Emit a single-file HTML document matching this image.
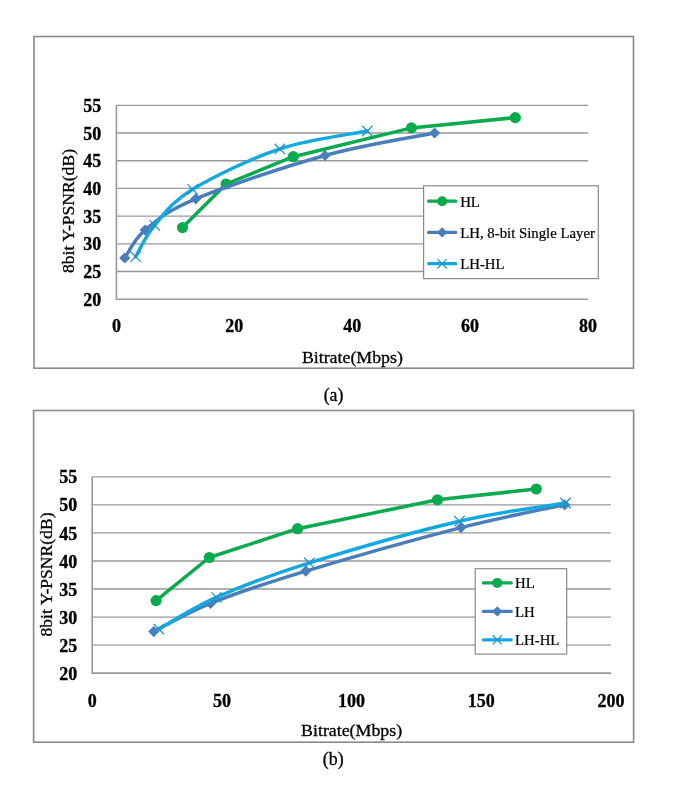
<!DOCTYPE html>
<html><head><meta charset="utf-8"><style>
html,body{margin:0;padding:0;background:#fff;}
svg{display:block;will-change:transform;}
text{font-family:"Liberation Serif", serif;fill:#000;stroke:#000;stroke-width:0.3px;}
</style></head><body>
<svg width="685" height="798" viewBox="0 0 685 798">
<rect width="685" height="798" fill="#fff"/>
<rect x="34.00" y="36.50" width="599.50" height="331.70" fill="#fff" stroke="#8A8A8A" stroke-width="1.6"/>
<line x1="116.40" y1="105.30" x2="588.20" y2="105.30" stroke="#989898" stroke-width="1.35"/>
<line x1="116.40" y1="133.00" x2="588.20" y2="133.00" stroke="#989898" stroke-width="1.35"/>
<line x1="116.40" y1="160.70" x2="588.20" y2="160.70" stroke="#989898" stroke-width="1.35"/>
<line x1="116.40" y1="188.40" x2="588.20" y2="188.40" stroke="#989898" stroke-width="1.35"/>
<line x1="116.40" y1="216.10" x2="588.20" y2="216.10" stroke="#989898" stroke-width="1.35"/>
<line x1="116.40" y1="243.80" x2="588.20" y2="243.80" stroke="#989898" stroke-width="1.35"/>
<line x1="116.40" y1="271.50" x2="588.20" y2="271.50" stroke="#989898" stroke-width="1.35"/>
<line x1="116.40" y1="105.30" x2="116.40" y2="300.00" stroke="#989898" stroke-width="1.6"/>
<line x1="116.40" y1="299.20" x2="588.20" y2="299.20" stroke="#989898" stroke-width="1.6"/>
<text x="101.20" y="111.90" text-anchor="end" font-weight="bold" font-size="18.0">55</text>
<text x="101.20" y="139.60" text-anchor="end" font-weight="bold" font-size="18.0">50</text>
<text x="101.20" y="167.30" text-anchor="end" font-weight="bold" font-size="18.0">45</text>
<text x="101.20" y="195.00" text-anchor="end" font-weight="bold" font-size="18.0">40</text>
<text x="101.20" y="222.70" text-anchor="end" font-weight="bold" font-size="18.0">35</text>
<text x="101.20" y="250.40" text-anchor="end" font-weight="bold" font-size="18.0">30</text>
<text x="101.20" y="278.10" text-anchor="end" font-weight="bold" font-size="18.0">25</text>
<text x="101.20" y="305.80" text-anchor="end" font-weight="bold" font-size="18.0">20</text>
<text x="116.40" y="332.00" text-anchor="middle" font-weight="bold" font-size="18.0">0</text>
<text x="234.30" y="332.00" text-anchor="middle" font-weight="bold" font-size="18.0">20</text>
<text x="352.20" y="332.00" text-anchor="middle" font-weight="bold" font-size="18.0">40</text>
<text x="470.10" y="332.00" text-anchor="middle" font-weight="bold" font-size="18.0">60</text>
<text x="588.00" y="332.00" text-anchor="middle" font-weight="bold" font-size="18.0">80</text>
<text transform="translate(74.10,211.00) rotate(-90)" text-anchor="middle" font-size="17.2" textLength="124" lengthAdjust="spacingAndGlyphs">8bit Y-PSNR(dB)</text>
<text x="352.40" y="363.00" text-anchor="middle" font-size="17" textLength="101" lengthAdjust="spacingAndGlyphs">Bitrate(Mbps)</text>
<path d="M182.50,227.60 L226.10,184.00 L293.30,156.70 L411.50,127.90 L515.30,117.60" stroke="#0AAA4E" stroke-width="3.5" fill="none" stroke-linejoin="round" stroke-linecap="round"/>
<circle cx="182.50" cy="227.60" r="5.60" fill="#0AAA4E"/>
<circle cx="226.10" cy="184.00" r="5.60" fill="#0AAA4E"/>
<circle cx="293.30" cy="156.70" r="5.60" fill="#0AAA4E"/>
<circle cx="411.50" cy="127.90" r="5.60" fill="#0AAA4E"/>
<circle cx="515.30" cy="117.60" r="5.60" fill="#0AAA4E"/>
<path d="M124.80,258.00 C128.18,253.35 133.27,239.97 145.10,230.10 C156.93,220.23 165.82,211.23 195.80,198.80 C225.78,186.37 285.20,166.47 325.00,155.50 C364.80,144.53 416.33,136.75 434.60,133.00" stroke="#4A7EBB" stroke-width="3.5" fill="none" stroke-linejoin="round" stroke-linecap="round"/>
<path d="M124.80,252.40 L130.40,258.00 L124.80,263.60 L119.20,258.00 Z" fill="#4A7EBB"/>
<path d="M145.10,224.50 L150.70,230.10 L145.10,235.70 L139.50,230.10 Z" fill="#4A7EBB"/>
<path d="M195.80,193.20 L201.40,198.80 L195.80,204.40 L190.20,198.80 Z" fill="#4A7EBB"/>
<path d="M325.00,149.90 L330.60,155.50 L325.00,161.10 L319.40,155.50 Z" fill="#4A7EBB"/>
<path d="M434.60,127.40 L440.20,133.00 L434.60,138.60 L429.00,133.00 Z" fill="#4A7EBB"/>
<path d="M135.60,256.70 C138.77,251.47 145.10,236.53 154.60,225.30 C164.10,214.07 171.73,202.03 192.60,189.30 C213.47,176.57 250.68,158.62 279.80,148.90 C308.92,139.18 352.72,133.98 367.30,131.00" stroke="#14A8E0" stroke-width="3.5" fill="none" stroke-linejoin="round" stroke-linecap="round"/>
<path d="M130.40,251.50 L140.80,261.90 M130.40,261.90 L140.80,251.50" stroke="#2094C6" stroke-width="1.25" fill="none"/>
<path d="M149.40,220.10 L159.80,230.50 M149.40,230.50 L159.80,220.10" stroke="#2094C6" stroke-width="1.25" fill="none"/>
<path d="M187.40,184.10 L197.80,194.50 M187.40,194.50 L197.80,184.10" stroke="#2094C6" stroke-width="1.25" fill="none"/>
<path d="M274.60,143.70 L285.00,154.10 M274.60,154.10 L285.00,143.70" stroke="#2094C6" stroke-width="1.25" fill="none"/>
<path d="M362.10,125.80 L372.50,136.20 M362.10,136.20 L372.50,125.80" stroke="#2094C6" stroke-width="1.25" fill="none"/>
<rect x="423.60" y="185.80" width="174.70" height="92.80" fill="#fff" stroke="#8A8A8A" stroke-width="1.2"/>
<line x1="428.60" y1="201.20" x2="455.70" y2="201.20" stroke="#0AAA4E" stroke-width="3.3" stroke-linecap="round"/>
<circle cx="442.15" cy="201.20" r="5.00" fill="#0AAA4E"/>
<text x="460.20" y="206.50" font-size="14.8" style="stroke-width:0.22px">HL</text>
<line x1="428.60" y1="232.40" x2="455.70" y2="232.40" stroke="#4A7EBB" stroke-width="3.3" stroke-linecap="round"/>
<path d="M442.15,227.20 L447.35,232.40 L442.15,237.60 L436.95,232.40 Z" fill="#4A7EBB"/>
<text x="460.20" y="237.70" font-size="14.8" style="stroke-width:0.22px">LH, 8-bit Single Layer</text>
<line x1="428.60" y1="263.70" x2="455.70" y2="263.70" stroke="#14A8E0" stroke-width="3.3" stroke-linecap="round"/>
<path d="M437.55,259.10 L446.75,268.30 M437.55,268.30 L446.75,259.10" stroke="#2094C6" stroke-width="1.25" fill="none"/>
<text x="460.20" y="269.00" font-size="14.8" style="stroke-width:0.22px">LH-HL</text>
<text x="333.50" y="400.50" text-anchor="middle" font-size="17.8">(a)</text>
<rect x="33.60" y="410.50" width="600.00" height="331.70" fill="#fff" stroke="#8A8A8A" stroke-width="1.6"/>
<line x1="92.20" y1="476.80" x2="611.00" y2="476.80" stroke="#989898" stroke-width="1.35"/>
<line x1="92.20" y1="504.85" x2="611.00" y2="504.85" stroke="#989898" stroke-width="1.35"/>
<line x1="92.20" y1="532.90" x2="611.00" y2="532.90" stroke="#989898" stroke-width="1.35"/>
<line x1="92.20" y1="560.95" x2="611.00" y2="560.95" stroke="#989898" stroke-width="1.35"/>
<line x1="92.20" y1="589.00" x2="611.00" y2="589.00" stroke="#989898" stroke-width="1.35"/>
<line x1="92.20" y1="617.05" x2="611.00" y2="617.05" stroke="#989898" stroke-width="1.35"/>
<line x1="92.20" y1="645.10" x2="611.00" y2="645.10" stroke="#989898" stroke-width="1.35"/>
<line x1="92.20" y1="476.80" x2="92.20" y2="673.95" stroke="#989898" stroke-width="1.6"/>
<line x1="92.20" y1="673.15" x2="611.00" y2="673.15" stroke="#989898" stroke-width="1.6"/>
<text x="77.20" y="483.40" text-anchor="end" font-weight="bold" font-size="18.0">55</text>
<text x="77.20" y="511.45" text-anchor="end" font-weight="bold" font-size="18.0">50</text>
<text x="77.20" y="539.50" text-anchor="end" font-weight="bold" font-size="18.0">45</text>
<text x="77.20" y="567.55" text-anchor="end" font-weight="bold" font-size="18.0">40</text>
<text x="77.20" y="595.60" text-anchor="end" font-weight="bold" font-size="18.0">35</text>
<text x="77.20" y="623.65" text-anchor="end" font-weight="bold" font-size="18.0">30</text>
<text x="77.20" y="651.70" text-anchor="end" font-weight="bold" font-size="18.0">25</text>
<text x="77.20" y="679.75" text-anchor="end" font-weight="bold" font-size="18.0">20</text>
<text x="92.20" y="706.50" text-anchor="middle" font-weight="bold" font-size="18.0">0</text>
<text x="221.90" y="706.50" text-anchor="middle" font-weight="bold" font-size="18.0">50</text>
<text x="351.60" y="706.50" text-anchor="middle" font-weight="bold" font-size="18.0">100</text>
<text x="481.30" y="706.50" text-anchor="middle" font-weight="bold" font-size="18.0">150</text>
<text x="611.00" y="706.50" text-anchor="middle" font-weight="bold" font-size="18.0">200</text>
<text transform="translate(52.00,574.50) rotate(-90)" text-anchor="middle" font-size="17.2" textLength="124" lengthAdjust="spacingAndGlyphs">8bit Y-PSNR(dB)</text>
<text x="351.60" y="736.20" text-anchor="middle" font-size="17" textLength="101" lengthAdjust="spacingAndGlyphs">Bitrate(Mbps)</text>
<path d="M156.10,600.60 L209.30,557.50 L297.60,528.70 L437.50,499.80 L536.30,489.00" stroke="#0AAA4E" stroke-width="3.5" fill="none" stroke-linejoin="round" stroke-linecap="round"/>
<circle cx="156.10" cy="600.60" r="5.60" fill="#0AAA4E"/>
<circle cx="209.30" cy="557.50" r="5.60" fill="#0AAA4E"/>
<circle cx="297.60" cy="528.70" r="5.60" fill="#0AAA4E"/>
<circle cx="437.50" cy="499.80" r="5.60" fill="#0AAA4E"/>
<circle cx="536.30" cy="489.00" r="5.60" fill="#0AAA4E"/>
<path d="M153.80,631.60 C163.27,626.88 185.27,613.38 210.60,603.30 C235.93,593.22 264.08,583.72 305.80,571.10 C347.52,558.48 417.75,538.65 460.90,527.60 C504.05,516.55 547.40,508.60 564.70,504.80" stroke="#4A7EBB" stroke-width="3.5" fill="none" stroke-linejoin="round" stroke-linecap="round"/>
<path d="M153.80,626.00 L159.40,631.60 L153.80,637.20 L148.20,631.60 Z" fill="#4A7EBB"/>
<path d="M210.60,597.70 L216.20,603.30 L210.60,608.90 L205.00,603.30 Z" fill="#4A7EBB"/>
<path d="M305.80,565.50 L311.40,571.10 L305.80,576.70 L300.20,571.10 Z" fill="#4A7EBB"/>
<path d="M460.90,522.00 L466.50,527.60 L460.90,533.20 L455.30,527.60 Z" fill="#4A7EBB"/>
<path d="M564.70,499.20 L570.30,504.80 L564.70,510.40 L559.10,504.80 Z" fill="#4A7EBB"/>
<path d="M158.80,629.10 C168.40,623.80 191.32,608.33 216.40,597.30 C241.48,586.27 268.78,575.58 309.30,562.90 C349.82,550.22 416.80,531.18 459.50,521.20 C502.20,511.22 547.83,506.03 565.50,503.00" stroke="#14A8E0" stroke-width="3.5" fill="none" stroke-linejoin="round" stroke-linecap="round"/>
<path d="M153.60,623.90 L164.00,634.30 M153.60,634.30 L164.00,623.90" stroke="#2094C6" stroke-width="1.25" fill="none"/>
<path d="M211.20,592.10 L221.60,602.50 M211.20,602.50 L221.60,592.10" stroke="#2094C6" stroke-width="1.25" fill="none"/>
<path d="M304.10,557.70 L314.50,568.10 M304.10,568.10 L314.50,557.70" stroke="#2094C6" stroke-width="1.25" fill="none"/>
<path d="M454.30,516.00 L464.70,526.40 M454.30,526.40 L464.70,516.00" stroke="#2094C6" stroke-width="1.25" fill="none"/>
<path d="M560.30,497.80 L570.70,508.20 M560.30,508.20 L570.70,497.80" stroke="#2094C6" stroke-width="1.25" fill="none"/>
<rect x="475.20" y="568.70" width="91.50" height="85.40" fill="#fff" stroke="#8A8A8A" stroke-width="1.2"/>
<line x1="483.40" y1="582.90" x2="511.20" y2="582.90" stroke="#0AAA4E" stroke-width="3.3" stroke-linecap="round"/>
<circle cx="497.30" cy="582.90" r="5.00" fill="#0AAA4E"/>
<text x="515.00" y="588.20" font-size="14.8" style="stroke-width:0.22px">HL</text>
<line x1="483.40" y1="611.40" x2="511.20" y2="611.40" stroke="#4A7EBB" stroke-width="3.3" stroke-linecap="round"/>
<path d="M497.30,606.20 L502.50,611.40 L497.30,616.60 L492.10,611.40 Z" fill="#4A7EBB"/>
<text x="515.00" y="616.70" font-size="14.8" style="stroke-width:0.22px">LH</text>
<line x1="483.40" y1="639.80" x2="511.20" y2="639.80" stroke="#14A8E0" stroke-width="3.3" stroke-linecap="round"/>
<path d="M492.70,635.20 L501.90,644.40 M492.70,644.40 L501.90,635.20" stroke="#2094C6" stroke-width="1.25" fill="none"/>
<text x="515.00" y="645.10" font-size="14.8" style="stroke-width:0.22px">LH-HL</text>
<text x="333.20" y="765.00" text-anchor="middle" font-size="17.8">(b)</text>
</svg>
</body></html>
